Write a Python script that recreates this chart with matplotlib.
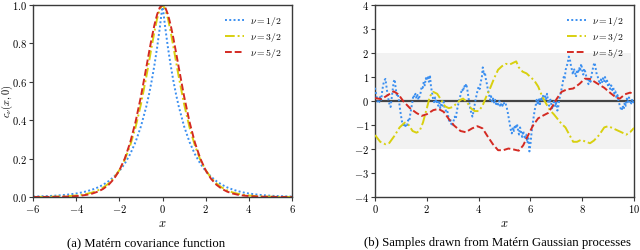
import numpy as np
import matplotlib
matplotlib.use("Agg")
import matplotlib.pyplot as plt
from matplotlib.ticker import FuncFormatter

plt.rcParams['mathtext.fontset'] = 'cm'
plt.rcParams['font.family'] = ['Liberation Serif', 'DejaVu Serif']

# ---------------- data: Matérn covariance ----------------
r_half = [0.0, 0.125, 0.25, 0.375, 0.5, 0.625, 0.75, 1.0, 1.25, 1.5, 1.75, 2.0, 2.25, 2.5,
          2.75, 3.0, 3.25, 3.5, 3.75, 4.0, 4.25, 4.5, 4.75, 5.0, 5.25, 5.5, 5.75, 6.0]
cov_nu12 = [1.0, 0.8825, 0.7788, 0.6873, 0.6065, 0.5353, 0.4724, 0.3679, 0.2865, 0.2231,
            0.1738, 0.1353, 0.1054, 0.0821, 0.0639, 0.0498, 0.0388, 0.0302, 0.0235, 0.0183,
            0.0143, 0.0111, 0.0087, 0.0067, 0.0052, 0.0041, 0.0032, 0.0025]
cov_nu32 = [1.0, 0.9797, 0.9295, 0.8615, 0.7849, 0.7054, 0.6272, 0.4833, 0.3631, 0.2677,
            0.1945, 0.1397, 0.0994, 0.0702, 0.0492, 0.0343, 0.0238, 0.0165, 0.0113, 0.0078,
            0.0053, 0.0036, 0.0025, 0.0017, 0.0011, 0.0008, 0.0005, 0.0003]
cov_nu52 = [1.0, 0.9873, 0.9510, 0.8963, 0.8286, 0.7536, 0.6756, 0.5240, 0.3911, 0.2832,
            0.2001, 0.1386, 0.0945, 0.0635, 0.0422, 0.0277, 0.0181, 0.0117, 0.0075, 0.0048,
            0.0030, 0.0019, 0.0012, 0.0008, 0.0005, 0.0003, 0.0002, 0.0001]

# ---------------- data: GP samples ----------------
samp12_y = [
    0.55, 0.30, 0.05, -0.10, -0.05, 0.20, 0.05, 0.45, 0.70, 0.85, 0.92, 0.60, 0.30, 0.05, -0.15, -0.25, 0.10, 0.45, 0.80, 0.90, 0.50, 0.25, 0.30, 0.05, -0.30,
    -0.60, -0.85, -1.00, -0.90, -1.10, -0.95, -1.00, -0.80, -0.85, -0.55, -0.30, -0.05, 0.25, 0.15, 0.30, 0.10, 0.25, 0.05, 0.20, 0.35, 0.60, 0.55, 0.80, 0.65, 0.95,
    0.85, 1.05, 0.80, 1.08, 0.60, 0.35, 0.10, -0.05, 0.15, -0.10, 0.05, -0.20, -0.05, -0.30, -0.10, -0.20, 0.05, -0.25, -0.35, -0.50, -0.45, -0.75, -0.90, -0.80, -1.05,
    -0.95, -0.80, -0.65, -0.75, -0.40, -0.20, 0.00, 0.15, 0.35, 0.50, 0.40, 0.65, 0.55, 0.72, 0.50, 0.20, -0.10, -0.35, -0.50, -0.65, -0.45, -0.20, 0.05, 0.25, 0.45,
    0.60, 0.50, 0.80, 0.95, 1.40, 1.10, 1.20, 0.90, 0.70, 0.45, 0.30, 0.05, 0.20, -0.05, 0.10, -0.10, 0.05, -0.20, -0.05, -0.15, 0.00, -0.25, -0.10, -0.20, -0.05,
    -0.15, -0.10, -0.25, -0.45, -0.70, -0.95, -1.20, -1.35, -1.10, -1.25, -1.00, -1.15, -0.95, -1.20, -1.40, -1.10, -1.30, -1.50, -1.25, -1.45, -1.60, -1.40, -1.75, -1.55, -2.10,
    -1.80, -1.35, -1.00, -0.70, -0.40, -0.20, 0.05, -0.15, 0.10, -0.20, 0.15, 0.00, 0.25, -0.05, 0.20, 0.05, 0.30, 0.00, -0.20, 0.10, -0.10, -0.35, -0.15, 0.05, -0.25,
    0.00, -0.40, -0.20, 0.10, 0.30, 0.50, 0.70, 1.00, 0.90, 1.30, 1.45, 1.60, 1.85, 1.75, 1.50, 1.30, 1.10, 1.35, 1.20, 1.00, 1.30, 1.15, 1.40, 1.25, 1.55,
    1.30, 1.10, 1.35, 1.20, 1.00, 0.90, 0.70, 0.90, 0.80, 1.10, 1.30, 1.50, 1.60, 1.35, 1.10, 1.00, 0.85, 0.70, 0.90, 0.75, 0.95, 0.80, 1.00, 0.75, 0.85,
    0.60, 0.70, 0.50, 0.65, 0.45, 0.55, 0.30, 0.40, 0.15, 0.25, 0.00, -0.15, -0.30, -0.40, -0.20, -0.35, -0.05, -0.20, 0.10, -0.05, 0.15, 0.00, -0.15, 0.05, -0.10,
    0.05]

samp32_x = [0.00, 0.20, 0.40, 0.55, 0.75, 0.95, 1.15, 1.30, 1.45, 1.60, 1.72, 1.85, 2.00, 2.12,
            2.25, 2.40, 2.55, 2.70, 2.85, 3.00, 3.15, 3.30, 3.40, 3.55, 3.70, 3.85, 4.00, 4.15,
            4.30, 4.45, 4.60, 4.75, 4.90, 5.05, 5.20, 5.35, 5.45, 5.55, 5.70, 5.85, 6.00, 6.15,
            6.30, 6.45, 6.60, 6.75, 6.90, 7.05, 7.20, 7.35, 7.50, 7.65, 7.80, 7.95, 8.10, 8.30,
            8.45, 8.65, 8.85, 9.00, 9.15, 9.35, 9.55, 9.70, 9.85, 10.00]
samp32_y = [-1.42, -1.70, -1.80, -1.75, -1.45, -1.10, -0.90, -1.00, -1.25, -1.32, -1.25, -0.90,
            -0.30, 0.20, 0.38, 0.30, 0.05, -0.22, -0.30, -0.25, -0.10, 0.05, 0.10, -0.05, -0.30,
            -0.42, -0.42, -0.20, 0.20, 0.55, 0.95, 1.30, 1.45, 1.55, 1.52, 1.60, 1.65, 1.40, 1.22,
            1.15, 1.00, 0.85, 0.60, 0.20, -0.10, -0.38, -0.55, -0.75, -0.95, -1.10, -1.40, -1.70,
            -1.70, -1.62, -1.68, -1.76, -1.65, -1.42, -1.10, -1.05, -1.12, -1.22, -1.32, -1.40,
            -1.30, -1.12]

samp52_x = [0.00, 0.25, 0.50, 0.72, 0.90, 1.10, 1.35, 1.60, 1.80, 2.00, 2.25, 2.45, 2.65, 2.85,
            3.05, 3.30, 3.50, 3.75, 3.95, 4.15, 4.35, 4.55, 4.75, 4.95, 5.15, 5.35, 5.55, 5.72,
            5.90, 6.10, 6.30, 6.50, 6.68, 6.85, 7.02, 7.20, 7.40, 7.65, 7.90, 8.10, 8.30, 8.55,
            8.85, 9.10, 9.30, 9.45, 9.65, 9.85, 10.00]
samp52_y = [0.12, 0.08, 0.25, 0.40, 0.28, -0.02, -0.30, -0.50, -0.62, -0.55, -0.38, -0.33, -0.45,
            -0.75, -1.02, -1.25, -1.30, -1.14, -1.05, -1.14, -1.48, -1.80, -2.05, -2.05, -1.98,
            -2.02, -2.07, -1.85, -1.45, -1.02, -0.72, -0.60, -0.50, -0.22, 0.10, 0.38, 0.48, 0.52,
            0.72, 0.93, 0.92, 0.75, 0.55, 0.32, 0.15, 0.10, 0.28, 0.35, 0.28]

labels = [r'$\nu=1/2$', r'$\nu=3/2$', r'$\nu=5/2$']
colors = ['#3b8ff0', '#d8d010', '#d42a22']

# ---------------- figure ----------------
fig = plt.figure(figsize=(6.4, 2.5), dpi=100)
ax1 = fig.add_axes([0.0516, 0.212, 0.4047, 0.768])
ax2 = fig.add_axes([0.586, 0.212, 0.4047, 0.768])

r = np.array(r_half)
xs = np.concatenate([-r[::-1], r[1:]])
def sym(v):
    v = np.array(v)
    return np.concatenate([v[::-1], v[1:]])

lw = 1.4
ax1.plot(xs, sym(cov_nu12), ls=(0, (1, 1.2)), color=colors[0], lw=lw, label=labels[0])
ax1.plot(xs, sym(cov_nu32), ls=(0, (5, 1.5, 1, 1.5)), color=colors[1], lw=lw, label=labels[1])
ax1.plot(xs, sym(cov_nu52), ls=(0, (3.5, 1.5)), color=colors[2], lw=lw, label=labels[2])
ax1.set_xlim(-6, 6)
ax1.set_ylim(0, 1)
ax1.set_xticks(np.arange(-6, 7, 2))
ax1.set_yticks(np.arange(0, 1.01, 0.2))

ax2.axhspan(-2, 2, xmin=0, xmax=0.99, color='#f2f2f2', lw=0, zorder=0)
ax2.axhline(0, color='#444444', lw=1.6, zorder=1)
x12 = np.linspace(0, 10, len(samp12_y))
ax2.plot(x12, samp12_y, ls=(0, (1, 1.2)), color=colors[0], lw=lw, label=labels[0], zorder=3)
ax2.plot(samp32_x, samp32_y, ls=(0, (5, 1.5, 1, 1.5)), color=colors[1], lw=lw, label=labels[1], zorder=3)
ax2.plot(samp52_x, samp52_y, ls=(0, (3.5, 1.5)), color=colors[2], lw=lw, label=labels[2], zorder=3)
ax2.set_xlim(0, 10)
ax2.set_ylim(-4, 4)
ax2.set_xticks(np.arange(0, 11, 2))
ax2.set_yticks(np.arange(-4, 5, 1))

fmt_f = FuncFormatter(lambda v, p: r'$%.1f$' % v)
fmt_i = FuncFormatter(lambda v, p: r'$%d$' % round(v))
ax1.yaxis.set_major_formatter(fmt_f)
ax1.xaxis.set_major_formatter(fmt_i)
ax2.xaxis.set_major_formatter(fmt_i)
ax2.yaxis.set_major_formatter(fmt_i)

for ax in (ax1, ax2):
    for s in ax.spines.values():
        s.set_color('#3a3a3a')
        s.set_linewidth(1.0)
    ax.tick_params(direction='out', length=3, width=0.8, color='#3a3a3a', labelsize=7.6, pad=1.2)
    ax.set_xlabel(r'$x$', fontsize=9, labelpad=2)
    leg = ax.legend(loc='upper right', frameon=False, fontsize=7, handlelength=1.9,
                    borderaxespad=0.6, labelspacing=0.3, handletextpad=0.7)

ax1.set_ylabel(r'$c_\nu(x,0)$', fontsize=7.5)
ax1.yaxis.set_label_coords(-0.071, 0.5)

fig.text(146 / 640, 1 - 243 / 250, '(a) Matérn covariance function', ha='center', va='center', fontsize=9.2)
fig.text(497 / 640, 1 - 243 / 250, '(b) Samples drawn from Matérn Gaussian processes', ha='center', va='center', fontsize=9.2)

fig.savefig('out.png', dpi=100)
